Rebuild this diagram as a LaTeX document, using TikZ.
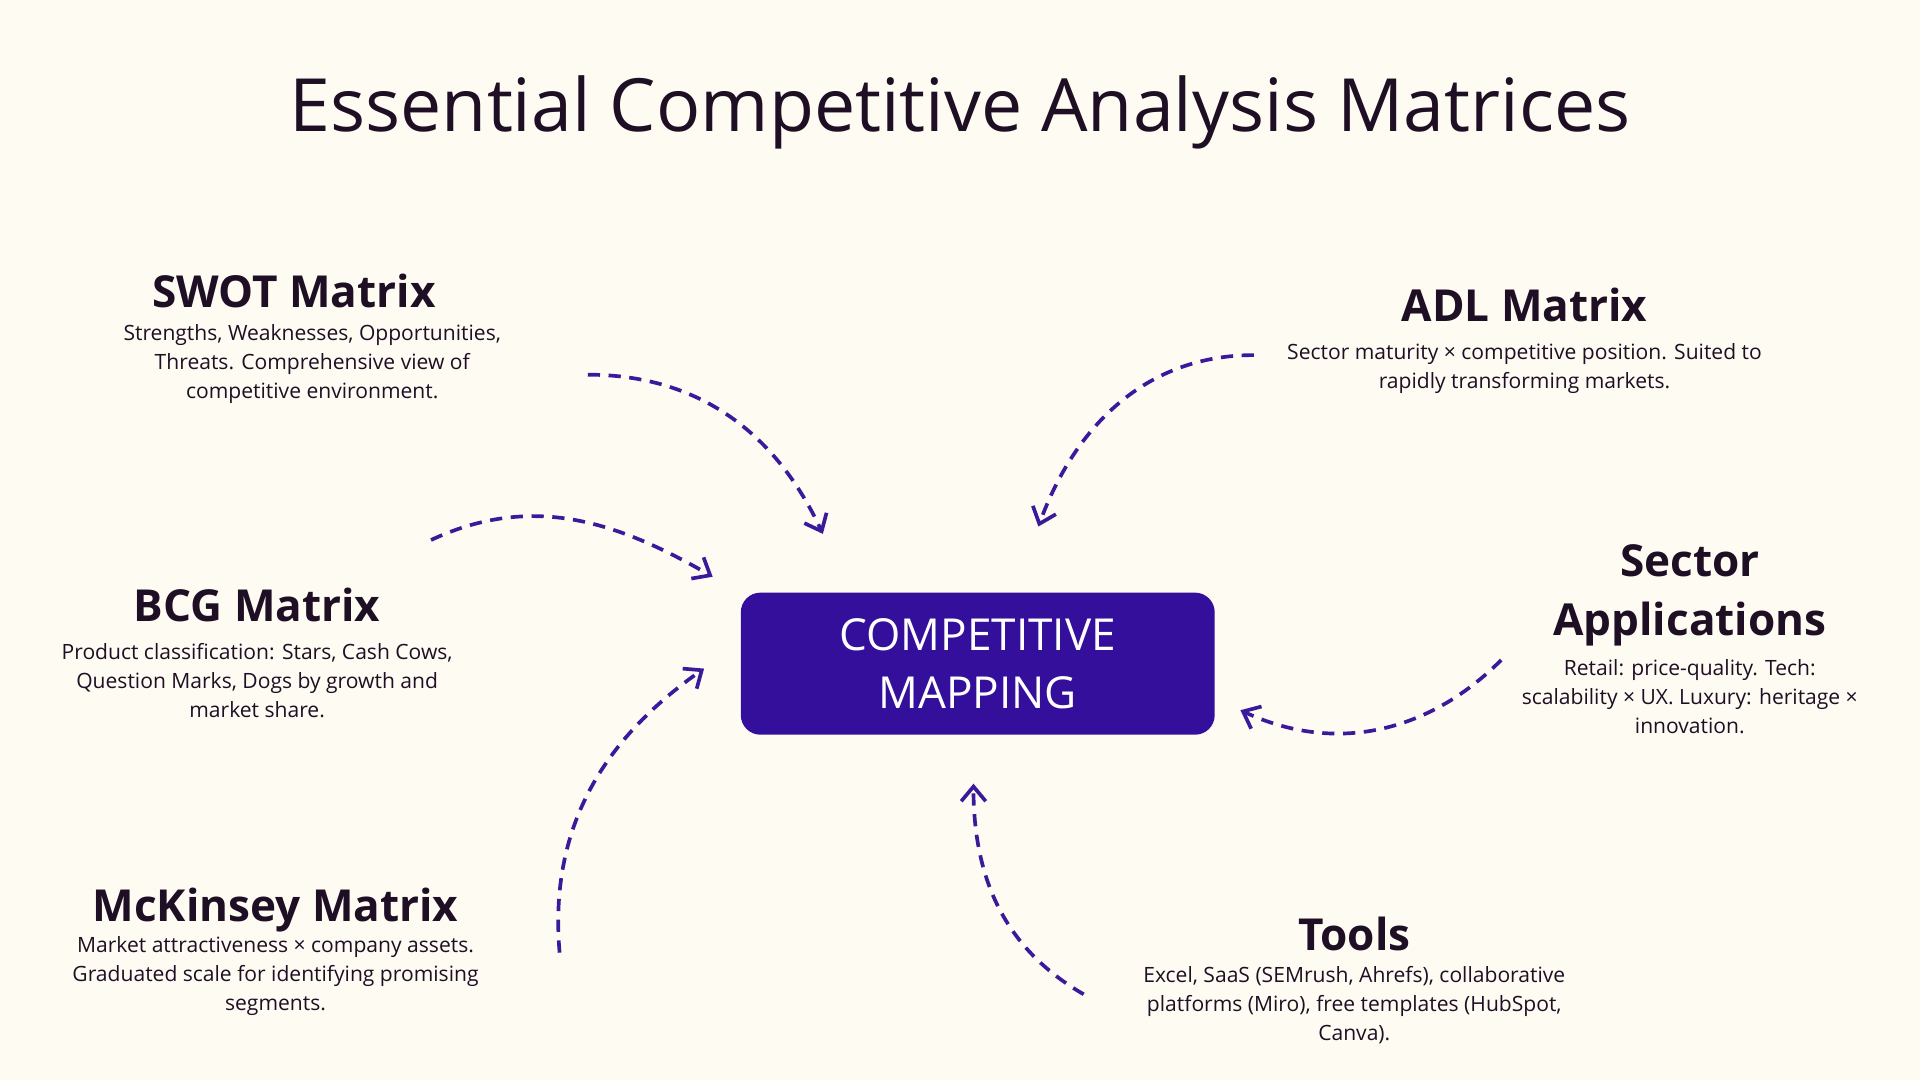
\documentclass[tikz,border=0pt]{standalone}
\usepackage{fontspec}
\setmainfont{Open Sans}
\usetikzlibrary{arrows.meta}
\definecolor{bg}{HTML}{FEFBF3}
\definecolor{ink}{HTML}{1F0F24}
\definecolor{box}{HTML}{340F9C}
\definecolor{arr}{HTML}{3A1A9A}
\begin{document}
\begin{tikzpicture}[x=0.5pt,y=0.5pt,
 head/.style={font=\fontsize{18}{20}\selectfont\bfseries,text=ink,align=center},
 body/.style={font=\fontsize{8.6}{11.8}\selectfont,text=ink,align=center},
 conn/.style={draw=arr,line width=1.5pt,dash pattern=on 5pt off 3.5pt,-{Straight Barb[length=6pt,width=10pt,line width=1.5pt]}}]
\fill[bg] (0,0) rectangle (1568,-882);
\useasboundingbox (0,0) rectangle (1568,-882);
\node[font=\fontsize{30}{34}\selectfont,text=ink] (title) at (784,-92) {Essential Competitive Analysis Matrices};
\node[fill=box,rounded corners=8pt,minimum width=193.5pt,minimum height=58pt,text=white,align=center,font=\fontsize{18}{24}\selectfont] (core) at (798.5,-542) {COMPETITIVE\\MAPPING};
\node[head] (swoth) at (240,-238) {SWOT Matrix};
\node[body] (swotb) at (255,-297) {Strengths, Weaknesses, Opportunities,\\Threats. Comprehensive view of\\competitive environment.};
\node[head] (adlh) at (1245,-249) {ADL Matrix};
\node[body] (adlb) at (1245,-301) {Sector maturity × competitive position. Suited to\\rapidly transforming markets.};
\node[head] (bcgh) at (210,-494) {BCG Matrix};
\node[body] (bcgb) at (210,-556) {Product classification: Stars, Cash Cows,\\Question Marks, Dogs by growth and\\market share.};
\node[head,font=\fontsize{18}{24}\selectfont\bfseries] (sech) at (1380,-486) {Sector\\Applications};
\node[body] (secb) at (1380,-569) {Retail: price-quality. Tech:\\scalability × UX. Luxury: heritage ×\\innovation.};
\node[head] (mckh) at (225,-743) {McKinsey Matrix};
\node[body] (mckb) at (225,-797) {Market attractiveness × company assets.\\Graduated scale for identifying promising\\segments.};
\node[head] (toolh) at (1106,-763) {Tools};
\node[body] (toolb) at (1106,-821) {Excel, SaaS (SEMrush, Ahrefs), collaborative\\platforms (Miro), free templates (HubSpot,\\Canva).};
\coordinate (s1) at (480,-306); \coordinate (e1) at (672,-436);
\coordinate (s2) at (352,-441); \coordinate (e2) at (582,-471);
\coordinate (s3) at (457,-778); \coordinate (e3) at (575,-546);
\coordinate (s4) at (885,-812); \coordinate (e4) at (795,-640);
\coordinate (s5) at (1226,-539); \coordinate (e5) at (1013,-580);
\coordinate (s6) at (1024,-290); \coordinate (e6) at (848,-430);
\draw[conn] (s1) to[out=0,in=115] (e1);
\draw[conn] (s2) to[out=25,in=150] (e2);
\draw[conn] (s3) to[out=95,in=215] (e3);
\draw[conn] (s4) to[out=150,in=-90] (e4);
\draw[conn] (s5) to[out=-135,in=-25] (e5);
\draw[conn] (s6) to[out=180,in=70] (e6);
\end{tikzpicture}
\end{document}
